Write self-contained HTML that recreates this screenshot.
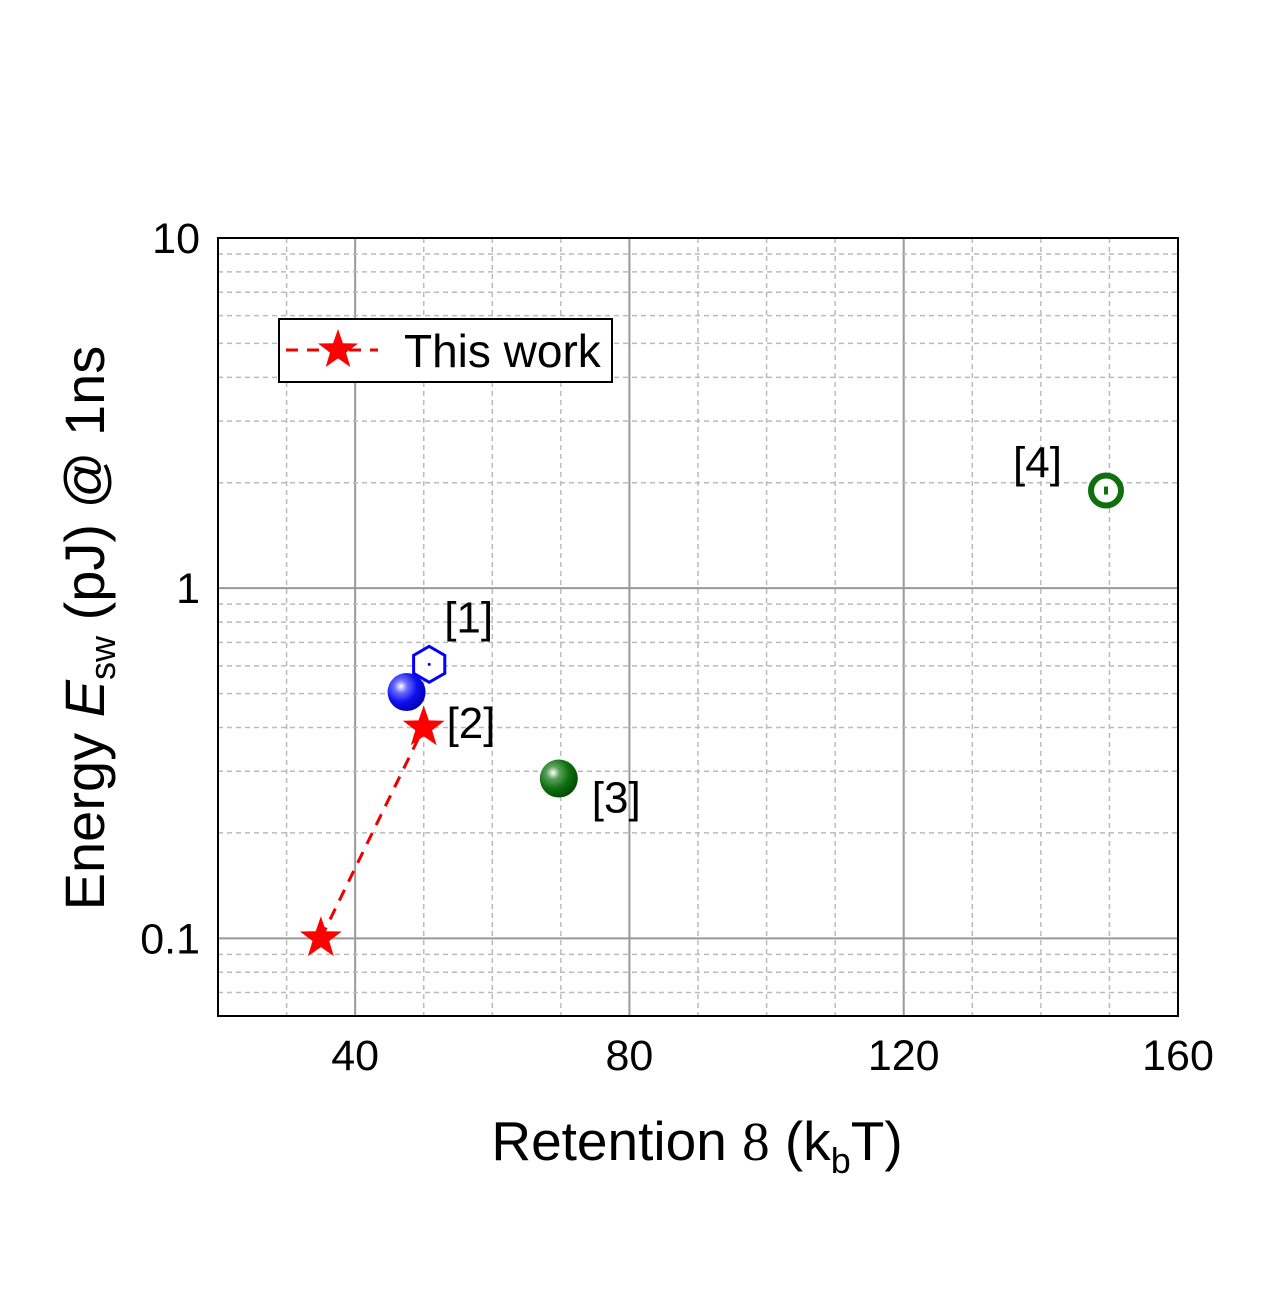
<!DOCTYPE html>
<html><head><meta charset="utf-8"><style>
body{margin:0;background:#fff}
svg{display:block;font-family:"Liberation Sans",sans-serif}
</style></head><body>
<svg id="chart" width="1280" height="1306" viewBox="0 0 1280 1306">
<defs>
<radialGradient id="gb" cx="0.35" cy="0.35" r="0.7"><stop offset="0" stop-color="#fff"/><stop offset="0.25" stop-color="#6a6aff"/><stop offset="0.6" stop-color="#1010ee"/><stop offset="1" stop-color="#0000b0"/></radialGradient>
<radialGradient id="gg" cx="0.35" cy="0.35" r="0.7"><stop offset="0" stop-color="#fff"/><stop offset="0.25" stop-color="#5aa05a"/><stop offset="0.6" stop-color="#107010"/><stop offset="1" stop-color="#004a00"/></radialGradient>
</defs>
<g id="grid"></g>
<g id="marks"></g>
<rect x="218" y="238" width="960" height="778" fill="none" stroke="#000" stroke-width="2"/>
<g id="ticks" font-size="43" fill="#000"></g>
<text x="697" y="1160" text-anchor="middle" font-size="55">Retention <tspan font-family="Liberation Serif">8</tspan> (k<tspan font-size="36" dy="13">b</tspan><tspan dy="-13">T)</tspan></text>
<text transform="translate(104,628) rotate(-90)" text-anchor="middle" font-size="56">Energy <tspan font-style="italic">E</tspan><tspan font-size="36" dy="11">sw</tspan><tspan dy="-11"> (pJ) @ 1ns</tspan></text>
<g>
<rect x="279" y="319" width="333" height="63" fill="#fff" stroke="#000" stroke-width="2"/>
<line x1="286" y1="350" x2="378" y2="350" stroke="#e00" stroke-width="3" stroke-dasharray="12,9"/>
<polygon id="legstar" fill="#f00"/>
<text x="404" y="367" font-size="46">This work</text>
</g>
</svg>
<script>
const xTicks=[40,80,120,160];
const yTicks=[0.1,1,10];
const yTickLabels=["0.1","1","10"];
const thisWorkX=[35,50];
const thisWorkY=[0.1,0.4];
const refNames=["[1]","[2]","[3]","[4]"];
const refX=[50.8,47.5,69.7,149.5];
const refY=[0.606,0.505,0.286,1.9];
const NS="http://www.w3.org/2000/svg";
const X0=218,X1=1178,Y0=1016,Y1=238;
const xmin=20,xmax=160,lmin=Math.log10(0.06),lmax=1;
const sx=v=>X0+(v-xmin)/(xmax-xmin)*(X1-X0);
const sy=v=>Y0-(Math.log10(v)-lmin)/(lmax-lmin)*(Y0-Y1);
function mk(tag,at,parent){const e=document.createElementNS(NS,tag);for(const k in at)e.setAttribute(k,at[k]);parent.appendChild(e);return e;}
const grid=document.getElementById('grid'),marks=document.getElementById('marks'),ticks=document.getElementById('ticks');
for(let v=30;v<160;v+=10){const major=xTicks.includes(v);
 const l=mk('line',{x1:sx(v),x2:sx(v),y1:Y1,y2:Y0,stroke:major?'#999':'#bbb','stroke-width':major?2:1.5,'stroke-dasharray':major?'none':'5,4'},grid);
 
 }
for(let d=-2;d<=0;d++)for(let m=1;m<10;m++){const v=m*Math.pow(10,d);if(v<0.06||v>10)continue;const major=m===1;
 const l=mk('line',{x1:X0,x2:X1,y1:sy(v),y2:sy(v),stroke:major?'#999':'#bbb','stroke-width':major?2:1.5,'stroke-dasharray':major?'none':'5,4'},grid);
 
 }
xTicks.forEach(v=>{const t=mk('text',{x:sx(v),y:1070,'text-anchor':'middle'},ticks);t.textContent=v;
 
 });
yTicks.forEach((v,i)=>{const t=mk('text',{x:200,y:sy(v)+15,'text-anchor':'end'},ticks);t.textContent=yTickLabels[i];
 
 });
function starPts(cx,cy,R){const r=R*0.4;let p=[];for(let i=0;i<10;i++){const a=-Math.PI/2+i*Math.PI/5,rr=i%2?r:R;p.push((cx+rr*Math.cos(a)).toFixed(1)+','+(cy+rr*Math.sin(a)).toFixed(1));}return p.join(' ');}
document.getElementById('legstar').setAttribute('points',starPts(338,350,21));
const line=mk('polyline',{points:thisWorkX.map((x,i)=>sx(x)+','+sy(thisWorkY[i])).join(' '),fill:'none',stroke:'#e00','stroke-width':3,'stroke-dasharray':'12,9'},marks);


thisWorkX.forEach((x,i)=>{const s=mk('polygon',{points:starPts(sx(x),sy(thisWorkY[i]),22),fill:'#f00'},marks);
 
 });
{const cx=sx(refX[0]),cy=sy(refY[0]);let p=[];for(let i=0;i<6;i++){const a=Math.PI/6+i*Math.PI/3;p.push((cx+18*Math.cos(a))+','+(cy+18*Math.sin(a)));}
 const h=mk('polygon',{points:p.join(' '),fill:'#fff',stroke:'#00f','stroke-width':3},marks);
 
 
 mk('circle',{cx:cx,cy:cy,r:1.5,fill:'#00f'},marks);}
{const c=mk('circle',{cx:sx(refX[1]),cy:sy(refY[1]),r:19,fill:'url(#gb)'},marks);
 
 }
{const c=mk('circle',{cx:sx(refX[2]),cy:sy(refY[2]),r:19,fill:'url(#gg)'},marks);
 
 }
{const c=mk('circle',{cx:sx(refX[3]),cy:sy(refY[3]),r:15,fill:'#fff',stroke:'#107010','stroke-width':6},marks);
 
 
 mk('rect',{x:sx(refX[3])-2,y:sy(refY[3])-4,width:4,height:8,fill:'#107010'},marks);}
const off=[[15,-32],[40,46],[33,34],[-93,-13]];
refNames.forEach((n,i)=>{const t=mk('text',{x:sx(refX[i])+off[i][0],y:sy(refY[i])+off[i][1],'font-size':44},marks);t.textContent=n;
 
 });
</script>
</body></html>
